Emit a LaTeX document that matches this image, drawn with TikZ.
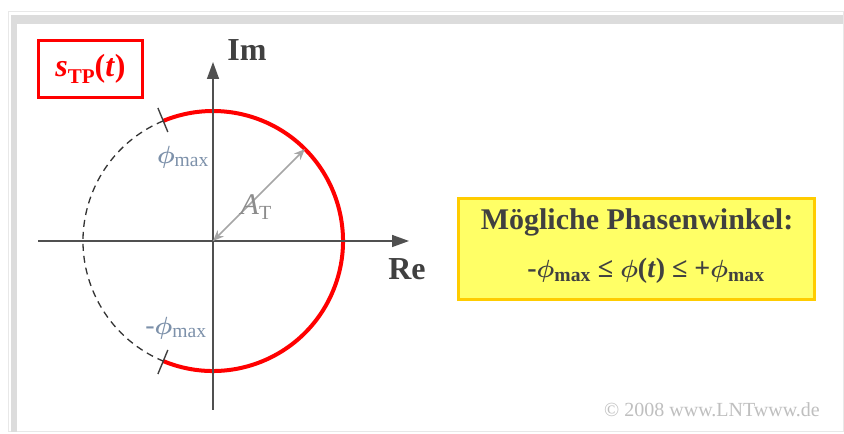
\documentclass[tikz,border=0pt]{standalone}
\usepackage{fontspec}
\usepackage{amsmath,bm}
\setmainfont{Liberation Serif}
\usetikzlibrary{arrows.meta}
\definecolor{axisgray}{RGB}{80,80,80}
\definecolor{lblblue}{RGB}{125,145,170}
\definecolor{boxyellow}{RGB}{255,255,102}
\definecolor{boxorange}{RGB}{255,204,0}
\definecolor{framegray}{RGB}{220,220,220}
\definecolor{framelight}{RGB}{232,232,232}
\definecolor{txtgray}{RGB}{64,64,64}
\tikzset{
  axisline/.style={draw=axisgray,line width=1.5pt,-{Triangle[length=17pt,width=12pt]}},
  redarc/.style={draw=red,line width=4pt},
  dasharc/.style={draw=black!80,line width=1.3pt,dash pattern=on 7pt off 5pt},
  tickline/.style={draw=black!75,line width=1.4pt},
  ampl/.style={draw=black!35,line width=1.6pt,{Stealth[length=11pt,width=9pt]}-{Stealth[length=11pt,width=9pt]}},
  axlabel/.style={font=\fontsize{32}{34}\selectfont\bfseries,text=txtgray},
  philabel/.style={font=\fontsize{28}{30}\selectfont,text=lblblue},
}
\begin{document}
\begin{tikzpicture}[x=1pt,y=1pt]
\useasboundingbox (0,0) rectangle (844,434);
% frame
\fill[white] (0,0) rectangle (844,434);
\draw[framelight,line width=1pt] (8,2) rectangle (843,422);
\fill[framegray] (11,2) rectangle (17,419);
\fill[framegray] (11,410) rectangle (843,419);
% geometry
\coordinate (O) at (213,193);
\coordinate (ytop) at (213,372);
\coordinate (ybot) at (213,24);
\coordinate (xl) at (38,193);
\coordinate (xr) at (409,193);
% dashed and red arcs
\draw[dasharc] ([shift={(112.5:130)}]O) arc[start angle=112.5,end angle=247.5,radius=130];
\draw[redarc] ([shift={(-112.5:130)}]O) arc[start angle=-112.5,end angle=112.5,radius=130];
% axes
\draw[axisline] (ybot) -- (ytop);
\draw[axisline] (xl) -- (xr);
% ticks
\coordinate (t1a) at ([shift={(112.5:118)}]O);
\coordinate (t1b) at ([shift={(112.5:144)}]O);
\coordinate (t2a) at ([shift={(247.5:118)}]O);
\coordinate (t2b) at ([shift={(247.5:144)}]O);
\draw[tickline] (t1a) -- (t1b);
\draw[tickline] (t2a) -- (t2b);
% amplitude arrow
\coordinate (P) at ([shift={(45:130)}]O);
\draw[ampl] (O) -- (P);
% labels
\node[axlabel] (im) at (247,384) {Im};
\node[axlabel] (re) at (407,165) {Re};
\node[philabel] (phimax) at (183,277) {$\boldsymbol{\phi}_{\text{max}}$};
\node[philabel] (mphimax) at (176,106) {-$\boldsymbol{\phi}_{\text{max}}$};
\node[font=\fontsize{30}{32}\selectfont,text=black!45] (at) at (256,227) {\textit{A}\raisebox{-0.35ex}{\fontsize{20}{22}\selectfont T}};
% s_TP box
\node[draw=red,line width=2.5pt,minimum width=104pt,minimum height=57pt,text=red,
  font=\fontsize{32}{34}\selectfont\bfseries] (stp) at (90.5,365)
  {\textit{s}\raisebox{-0.45ex}{\fontsize{21}{22}\selectfont TP}(\textit{t})};
% yellow box
\node[draw=boxorange,fill=boxyellow,line width=3pt,minimum width=356pt,minimum height=101pt] (ybox) at (636.5,185) {};
\node[font=\fontsize{30}{32}\selectfont\bfseries,text=txtgray] (l1) at (637,212) {Mögliche Phasenwinkel:};
\node[font=\fontsize{28}{30}\selectfont\bfseries,text=txtgray] (l2) at (646,163)
  {-$\boldsymbol{\phi}_{\text{\textbf{max}}}$ ≤ $\boldsymbol{\phi}$(\textit{t}) ≤ +$\boldsymbol{\phi}_{\text{\textbf{max}}}$};
% copyright
\node[font=\fontsize{20}{22}\selectfont,text=black!25] (copy) at (712,24) {© 2008 www.LNTwww.de};
\end{tikzpicture}
\end{document}
